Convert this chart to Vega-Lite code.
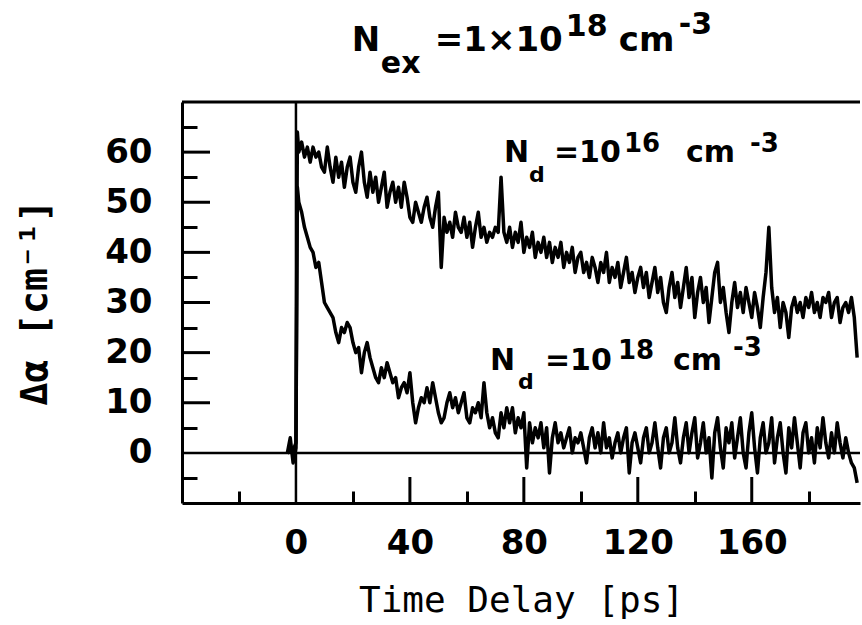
{
  "$schema": "https://vega.github.io/schema/vega-lite/v6.json",
  "width": 678,
  "height": 401,
  "autosize": {"type": "none"},
  "padding": {"left": 182, "top": 102, "right": 2, "bottom": 122},
  "background": "white",
  "config": {"view": {"stroke": null}},
  "data": {"values": [{}]},
  "resolve": {"scale": {"x": "shared", "y": "shared"}, "axis": {"x": "independent", "y": "independent"}},
  "datasets": {
    "curves": [
      {"t":-3,"v":0,"s":"A"},{"t":-1,"v":0.5,"s":"A"},{"t":0,"v":2,"s":"A"},{"t":0.5,"v":64,"s":"A"},
      {"t":1,"v":60,"s":"A"},{"t":2,"v":62,"s":"A"},{"t":3,"v":59,"s":"A"},{"t":4,"v":61,"s":"A"},{"t":5,"v":58,"s":"A"},{"t":6,"v":61,"s":"A"},{"t":7,"v":59,"s":"A"},{"t":8,"v":60,"s":"A"},{"t":9,"v":57,"s":"A"},{"t":10,"v":56,"s":"A"},
      {"t":11,"v":61,"s":"A"},{"t":12,"v":57,"s":"A"},{"t":13,"v":54,"s":"A"},{"t":14,"v":59,"s":"A"},{"t":15,"v":55,"s":"A"},{"t":16,"v":58,"s":"A"},{"t":17,"v":53,"s":"A"},{"t":18,"v":57,"s":"A"},{"t":19,"v":59,"s":"A"},{"t":20,"v":54,"s":"A"},
      {"t":21,"v":52,"s":"A"},{"t":22,"v":57,"s":"A"},{"t":23,"v":60,"s":"A"},{"t":24,"v":54,"s":"A"},{"t":25,"v":51,"s":"A"},{"t":26,"v":56,"s":"A"},{"t":27,"v":52,"s":"A"},{"t":28,"v":55,"s":"A"},{"t":29,"v":50,"s":"A"},{"t":30,"v":53,"s":"A"},
      {"t":31,"v":56,"s":"A"},{"t":32,"v":49,"s":"A"},{"t":33,"v":52,"s":"A"},{"t":34,"v":54,"s":"A"},{"t":35,"v":50,"s":"A"},{"t":36,"v":53,"s":"A"},{"t":37,"v":49,"s":"A"},{"t":38,"v":54,"s":"A"},{"t":39,"v":51,"s":"A"},{"t":40,"v":47,"s":"A"},
      {"t":41,"v":46,"s":"A"},{"t":42,"v":50,"s":"A"},{"t":43,"v":48,"s":"A"},{"t":44,"v":46,"s":"A"},{"t":45,"v":49,"s":"A"},{"t":46,"v":51,"s":"A"},{"t":47,"v":47,"s":"A"},{"t":48,"v":45,"s":"A"},{"t":49,"v":49,"s":"A"},{"t":50,"v":52,"s":"A"},
      {"t":51,"v":37,"s":"A"},{"t":52,"v":47,"s":"A"},{"t":53,"v":44,"s":"A"},{"t":54,"v":46,"s":"A"},{"t":55,"v":43,"s":"A"},{"t":56,"v":48,"s":"A"},{"t":57,"v":45,"s":"A"},{"t":58,"v":44,"s":"A"},{"t":59,"v":47,"s":"A"},{"t":60,"v":43,"s":"A"},
      {"t":61,"v":46,"s":"A"},{"t":62,"v":41,"s":"A"},{"t":63,"v":45,"s":"A"},{"t":64,"v":48,"s":"A"},{"t":65,"v":43,"s":"A"},{"t":66,"v":45,"s":"A"},{"t":67,"v":42,"s":"A"},{"t":68,"v":44,"s":"A"},{"t":69,"v":43,"s":"A"},{"t":70,"v":45,"s":"A"},
      {"t":71,"v":44,"s":"A"},{"t":72,"v":55,"s":"A"},{"t":73,"v":44,"s":"A"},{"t":74,"v":42,"s":"A"},{"t":75,"v":45,"s":"A"},{"t":76,"v":41,"s":"A"},{"t":77,"v":44,"s":"A"},{"t":78,"v":42,"s":"A"},{"t":79,"v":46,"s":"A"},{"t":80,"v":40,"s":"A"},
      {"t":81,"v":43,"s":"A"},{"t":82,"v":41,"s":"A"},{"t":83,"v":44,"s":"A"},{"t":84,"v":39,"s":"A"},{"t":85,"v":42,"s":"A"},{"t":86,"v":40,"s":"A"},{"t":87,"v":43,"s":"A"},{"t":88,"v":39,"s":"A"},{"t":89,"v":42,"s":"A"},{"t":90,"v":38,"s":"A"},
      {"t":91,"v":41,"s":"A"},{"t":92,"v":39,"s":"A"},{"t":93,"v":42,"s":"A"},{"t":94,"v":37,"s":"A"},{"t":95,"v":40,"s":"A"},{"t":96,"v":38,"s":"A"},{"t":97,"v":41,"s":"A"},{"t":98,"v":36,"s":"A"},{"t":99,"v":39,"s":"A"},{"t":100,"v":40,"s":"A"},
      {"t":101,"v":36,"s":"A"},{"t":102,"v":38,"s":"A"},{"t":103,"v":35,"s":"A"},{"t":104,"v":39,"s":"A"},{"t":105,"v":37,"s":"A"},{"t":106,"v":34,"s":"A"},{"t":107,"v":38,"s":"A"},{"t":108,"v":36,"s":"A"},{"t":109,"v":40,"s":"A"},{"t":110,"v":34,"s":"A"},
      {"t":111,"v":37,"s":"A"},{"t":112,"v":35,"s":"A"},{"t":113,"v":38,"s":"A"},{"t":114,"v":33,"s":"A"},{"t":115,"v":36,"s":"A"},{"t":116,"v":39,"s":"A"},{"t":117,"v":34,"s":"A"},{"t":118,"v":36,"s":"A"},{"t":119,"v":32,"s":"A"},{"t":120,"v":35,"s":"A"},
      {"t":121,"v":37,"s":"A"},{"t":122,"v":33,"s":"A"},{"t":123,"v":36,"s":"A"},{"t":124,"v":31,"s":"A"},{"t":125,"v":34,"s":"A"},{"t":126,"v":37,"s":"A"},{"t":127,"v":32,"s":"A"},{"t":128,"v":35,"s":"A"},{"t":129,"v":30,"s":"A"},{"t":130,"v":28,"s":"A"},
      {"t":131,"v":33,"s":"A"},{"t":132,"v":36,"s":"A"},{"t":133,"v":31,"s":"A"},{"t":134,"v":34,"s":"A"},{"t":135,"v":29,"s":"A"},{"t":136,"v":33,"s":"A"},{"t":137,"v":37,"s":"A"},{"t":138,"v":31,"s":"A"},{"t":139,"v":35,"s":"A"},{"t":140,"v":27,"s":"A"},
      {"t":141,"v":32,"s":"A"},{"t":142,"v":35,"s":"A"},{"t":143,"v":30,"s":"A"},{"t":144,"v":33,"s":"A"},{"t":145,"v":26,"s":"A"},{"t":146,"v":31,"s":"A"},{"t":147,"v":36,"s":"A"},{"t":148,"v":38,"s":"A"},{"t":149,"v":30,"s":"A"},{"t":150,"v":33,"s":"A"},
      {"t":151,"v":28,"s":"A"},{"t":152,"v":24,"s":"A"},{"t":153,"v":30,"s":"A"},{"t":154,"v":34,"s":"A"},{"t":155,"v":29,"s":"A"},{"t":156,"v":32,"s":"A"},{"t":157,"v":28,"s":"A"},{"t":158,"v":33,"s":"A"},{"t":159,"v":30,"s":"A"},{"t":160,"v":27,"s":"A"},
      {"t":161,"v":32,"s":"A"},{"t":162,"v":29,"s":"A"},{"t":163,"v":25,"s":"A"},{"t":164,"v":31,"s":"A"},{"t":165,"v":36,"s":"A"},{"t":166,"v":45,"s":"A"},{"t":167,"v":33,"s":"A"},{"t":168,"v":28,"s":"A"},{"t":169,"v":31,"s":"A"},{"t":170,"v":25,"s":"A"},
      {"t":171,"v":30,"s":"A"},{"t":172,"v":28,"s":"A"},{"t":173,"v":23,"s":"A"},{"t":174,"v":29,"s":"A"},{"t":175,"v":31,"s":"A"},{"t":176,"v":28,"s":"A"},{"t":177,"v":30,"s":"A"},{"t":178,"v":27,"s":"A"},{"t":179,"v":31,"s":"A"},{"t":180,"v":29,"s":"A"},
      {"t":181,"v":32,"s":"A"},{"t":182,"v":28,"s":"A"},{"t":183,"v":30,"s":"A"},{"t":184,"v":27,"s":"A"},{"t":185,"v":31,"s":"A"},{"t":186,"v":30,"s":"A"},{"t":187,"v":32,"s":"A"},{"t":188,"v":27,"s":"A"},{"t":189,"v":30,"s":"A"},{"t":190,"v":31,"s":"A"},
      {"t":191,"v":26,"s":"A"},{"t":192,"v":29,"s":"A"},{"t":193,"v":30,"s":"A"},{"t":194,"v":28,"s":"A"},{"t":195,"v":31,"s":"A"},{"t":196,"v":27,"s":"A"},{"t":197,"v":19,"s":"A"},
      {"t":-3,"v":0,"s":"B"},{"t":-2,"v":3,"s":"B"},{"t":-1,"v":-2,"s":"B"},{"t":0,"v":1,"s":"B"},{"t":0.5,"v":53,"s":"B"},
      {"t":1,"v":50,"s":"B"},{"t":2,"v":48,"s":"B"},{"t":3,"v":45,"s":"B"},{"t":4,"v":43,"s":"B"},{"t":5,"v":41,"s":"B"},{"t":6,"v":40,"s":"B"},{"t":7,"v":37,"s":"B"},{"t":8,"v":38,"s":"B"},{"t":9,"v":34,"s":"B"},{"t":10,"v":30,"s":"B"},
      {"t":11,"v":29,"s":"B"},{"t":12,"v":28,"s":"B"},{"t":13,"v":27,"s":"B"},{"t":14,"v":24,"s":"B"},{"t":15,"v":22,"s":"B"},{"t":16,"v":25,"s":"B"},{"t":17,"v":24,"s":"B"},{"t":18,"v":26,"s":"B"},{"t":19,"v":25,"s":"B"},{"t":20,"v":22,"s":"B"},
      {"t":21,"v":20,"s":"B"},{"t":22,"v":21,"s":"B"},{"t":23,"v":16,"s":"B"},{"t":24,"v":20,"s":"B"},{"t":25,"v":22,"s":"B"},{"t":26,"v":19,"s":"B"},{"t":27,"v":17,"s":"B"},{"t":28,"v":15,"s":"B"},{"t":29,"v":14,"s":"B"},{"t":30,"v":17,"s":"B"},
      {"t":31,"v":15,"s":"B"},{"t":32,"v":18,"s":"B"},{"t":33,"v":16,"s":"B"},{"t":34,"v":14,"s":"B"},{"t":35,"v":15,"s":"B"},{"t":36,"v":11,"s":"B"},{"t":37,"v":13,"s":"B"},{"t":38,"v":14,"s":"B"},{"t":39,"v":12,"s":"B"},{"t":40,"v":16,"s":"B"},
      {"t":41,"v":10,"s":"B"},{"t":42,"v":6,"s":"B"},{"t":43,"v":9,"s":"B"},{"t":44,"v":11,"s":"B"},{"t":45,"v":10,"s":"B"},{"t":46,"v":13,"s":"B"},{"t":47,"v":10,"s":"B"},{"t":48,"v":14,"s":"B"},{"t":49,"v":11,"s":"B"},{"t":50,"v":8,"s":"B"},
      {"t":51,"v":6,"s":"B"},{"t":52,"v":7,"s":"B"},{"t":53,"v":10,"s":"B"},{"t":54,"v":12,"s":"B"},{"t":55,"v":9,"s":"B"},{"t":56,"v":11,"s":"B"},{"t":57,"v":8,"s":"B"},{"t":58,"v":10,"s":"B"},{"t":59,"v":12,"s":"B"},{"t":60,"v":7,"s":"B"},
      {"t":61,"v":6,"s":"B"},{"t":62,"v":9,"s":"B"},{"t":63,"v":8,"s":"B"},{"t":64,"v":10,"s":"B"},{"t":65,"v":7,"s":"B"},{"t":66,"v":14,"s":"B"},{"t":67,"v":8,"s":"B"},{"t":68,"v":5,"s":"B"},{"t":69,"v":7,"s":"B"},{"t":70,"v":4,"s":"B"},
      {"t":71,"v":3,"s":"B"},{"t":72,"v":8,"s":"B"},{"t":73,"v":5,"s":"B"},{"t":74,"v":9,"s":"B"},{"t":75,"v":6,"s":"B"},{"t":76,"v":9,"s":"B"},{"t":77,"v":4,"s":"B"},{"t":78,"v":7,"s":"B"},{"t":79,"v":5,"s":"B"},{"t":80,"v":8,"s":"B"},
      {"t":81,"v":-3,"s":"B"},{"t":82,"v":6,"s":"B"},{"t":83,"v":2,"s":"B"},{"t":84,"v":5,"s":"B"},{"t":85,"v":3,"s":"B"},{"t":86,"v":6,"s":"B"},{"t":87,"v":1,"s":"B"},{"t":88,"v":5,"s":"B"},{"t":89,"v":-4,"s":"B"},{"t":90,"v":3,"s":"B"},
      {"t":91,"v":6,"s":"B"},{"t":92,"v":2,"s":"B"},{"t":93,"v":4,"s":"B"},{"t":94,"v":1,"s":"B"},{"t":95,"v":3,"s":"B"},{"t":96,"v":5,"s":"B"},{"t":97,"v":0,"s":"B"},{"t":98,"v":3,"s":"B"},{"t":99,"v":2,"s":"B"},{"t":100,"v":4,"s":"B"},
      {"t":101,"v":1,"s":"B"},{"t":102,"v":-2,"s":"B"},{"t":103,"v":3,"s":"B"},{"t":104,"v":5,"s":"B"},{"t":105,"v":1,"s":"B"},{"t":106,"v":4,"s":"B"},{"t":107,"v":0,"s":"B"},{"t":108,"v":6,"s":"B"},{"t":109,"v":1,"s":"B"},{"t":110,"v":3,"s":"B"},
      {"t":111,"v":-1,"s":"B"},{"t":112,"v":2,"s":"B"},{"t":113,"v":4,"s":"B"},{"t":114,"v":0,"s":"B"},{"t":115,"v":3,"s":"B"},{"t":116,"v":5,"s":"B"},{"t":117,"v":-4,"s":"B"},{"t":118,"v":2,"s":"B"},{"t":119,"v":4,"s":"B"},{"t":120,"v":1,"s":"B"},
      {"t":121,"v":-2,"s":"B"},{"t":122,"v":3,"s":"B"},{"t":123,"v":5,"s":"B"},{"t":124,"v":0,"s":"B"},{"t":125,"v":2,"s":"B"},{"t":126,"v":6,"s":"B"},{"t":127,"v":1,"s":"B"},{"t":128,"v":-3,"s":"B"},{"t":129,"v":3,"s":"B"},{"t":130,"v":5,"s":"B"},
      {"t":131,"v":0,"s":"B"},{"t":132,"v":2,"s":"B"},{"t":133,"v":7,"s":"B"},{"t":134,"v":1,"s":"B"},{"t":135,"v":-2,"s":"B"},{"t":136,"v":3,"s":"B"},{"t":137,"v":6,"s":"B"},{"t":138,"v":0,"s":"B"},{"t":139,"v":4,"s":"B"},{"t":140,"v":7,"s":"B"},
      {"t":141,"v":-1,"s":"B"},{"t":142,"v":2,"s":"B"},{"t":143,"v":6,"s":"B"},{"t":144,"v":0,"s":"B"},{"t":145,"v":3,"s":"B"},{"t":146,"v":-5,"s":"B"},{"t":147,"v":4,"s":"B"},{"t":148,"v":7,"s":"B"},{"t":149,"v":1,"s":"B"},{"t":150,"v":-3,"s":"B"},
      {"t":151,"v":5,"s":"B"},{"t":152,"v":2,"s":"B"},{"t":153,"v":6,"s":"B"},{"t":154,"v":-1,"s":"B"},{"t":155,"v":3,"s":"B"},{"t":156,"v":7,"s":"B"},{"t":157,"v":0,"s":"B"},{"t":158,"v":-3,"s":"B"},{"t":159,"v":4,"s":"B"},{"t":160,"v":8,"s":"B"},
      {"t":161,"v":1,"s":"B"},{"t":162,"v":-4,"s":"B"},{"t":163,"v":3,"s":"B"},{"t":164,"v":6,"s":"B"},{"t":165,"v":0,"s":"B"},{"t":166,"v":2,"s":"B"},{"t":167,"v":7,"s":"B"},{"t":168,"v":-2,"s":"B"},{"t":169,"v":3,"s":"B"},{"t":170,"v":6,"s":"B"},
      {"t":171,"v":0,"s":"B"},{"t":172,"v":-4,"s":"B"},{"t":173,"v":5,"s":"B"},{"t":174,"v":1,"s":"B"},{"t":175,"v":7,"s":"B"},{"t":176,"v":2,"s":"B"},{"t":177,"v":-3,"s":"B"},{"t":178,"v":4,"s":"B"},{"t":179,"v":6,"s":"B"},{"t":180,"v":0,"s":"B"},
      {"t":181,"v":3,"s":"B"},{"t":182,"v":-2,"s":"B"},{"t":183,"v":5,"s":"B"},{"t":184,"v":1,"s":"B"},{"t":185,"v":7,"s":"B"},{"t":186,"v":2,"s":"B"},{"t":187,"v":-1,"s":"B"},{"t":188,"v":4,"s":"B"},{"t":189,"v":0,"s":"B"},{"t":190,"v":6,"s":"B"},
      {"t":191,"v":2,"s":"B"},{"t":192,"v":-1,"s":"B"},{"t":193,"v":3,"s":"B"},{"t":194,"v":0,"s":"B"},{"t":195,"v":-2,"s":"B"},{"t":196,"v":-3,"s":"B"},{"t":197,"v":-6,"s":"B"}
    ]
  },
  "layer": [
    {
      "data": {"name": "curves"},
      "mark": {"type": "line", "color": "black", "strokeWidth": 3.5, "strokeJoin": "round"},
      "encoding": {
        "x": {
          "field": "t", "type": "quantitative",
          "scale": {"domain": [-40, 198], "nice": false, "zero": false},
          "axis": {
            "orient": "bottom", "title": null, "labels": false, "grid": false,
            "values": [-20, 20, 60, 100, 140, 180],
            "tickSize": -12, "tickWidth": 3, "tickColor": "black",
            "domain": true, "domainWidth": 3, "domainColor": "black"
          }
        },
        "y": {
          "field": "v", "type": "quantitative",
          "scale": {"domain": [-10, 70], "nice": false, "zero": false},
          "axis": {
            "orient": "left", "title": null, "labels": false, "grid": false,
            "values": [-5, 5, 15, 25, 35, 45, 55, 65],
            "tickSize": -15, "tickWidth": 3, "tickColor": "black",
            "domain": true, "domainWidth": 3, "domainColor": "black"
          }
        },
        "detail": {"field": "s"}
      }
    },
    {
      "mark": {"type": "rule", "color": "black", "strokeWidth": 2.5},
      "encoding": {
        "y": {
          "datum": 0, "type": "quantitative",
          "axis": {
            "orient": "left", "title": "Δα [cm⁻¹]", "grid": false,
            "values": [0, 10, 20, 30, 40, 50, 60],
            "ticks": true, "tickSize": 0, "tickWidth": 0,
            "domain": false,
            "labelFont": "DejaVu Sans", "labelFontWeight": "bold", "labelFontSize": 34, "labelColor": "black",
            "labelBaseline": "middle", "labelAlign": "right", "labelPadding": 30, "labelFlush": false, "labelOverlap": false,
            "titleFont": "DejaVu Sans Mono", "titleFontWeight": "bold", "titleFontSize": 38, "titleColor": "black",
            "titleX": -147, "titleY": 200, "titleAngle": -90, "titleAlign": "center", "titleBaseline": "middle"
          }
        }
      }
    },
    {
      "mark": {"type": "rule", "color": "black", "strokeWidth": 2.5},
      "encoding": {
        "x": {
          "datum": 0, "type": "quantitative",
          "axis": {
            "orient": "bottom", "title": "Time Delay [ps]", "grid": false,
            "values": [0, 40, 80, 120, 160],
            "ticks": true, "tickSize": 0, "tickWidth": 0,
            "domain": false,
            "labelFont": "DejaVu Sans", "labelFontWeight": "bold", "labelFontSize": 34, "labelColor": "black",
            "labelBaseline": "top", "labelPadding": 23, "labelFlush": false, "labelOverlap": false,
            "titleFont": "DejaVu Sans Mono", "titleFontWeight": "normal", "titleFontSize": 36, "titleColor": "black",
            "titleX": 339, "titleY": 108, "titleAlign": "center", "titleBaseline": "alphabetic"
          }
        }
      }
    },
    {"mark": {"type": "rule", "color": "black", "strokeWidth": 3}, "encoding": {"y": {"datum": 70, "type": "quantitative", "axis": null}}},
    {
      "data": {"values": [{"yt": 10}, {"yt": 20}, {"yt": 30}, {"yt": 40}, {"yt": 50}, {"yt": 60}]},
      "mark": {"type": "rule", "color": "black", "strokeWidth": 3},
      "encoding": {
        "y": {"field": "yt", "type": "quantitative", "axis": null},
        "x": {"datum": -40, "type": "quantitative", "axis": null},
        "x2": {"datum": -30.17}
      }
    },
    {
      "data": {"values": [{"xt": 40}, {"xt": 80}, {"xt": 120}, {"xt": 160}]},
      "mark": {"type": "rule", "color": "black", "strokeWidth": 3},
      "encoding": {
        "x": {"field": "xt", "type": "quantitative", "axis": null},
        "y": {"datum": -10, "type": "quantitative", "axis": null},
        "y2": {"datum": -4.81}
      }
    },

    {"mark": {"type": "text", "align": "left", "baseline": "alphabetic", "font": "DejaVu Sans", "fontWeight": "bold", "fontSize": 34, "color": "black"}, "encoding": {"x": {"datum": 19.6, "type": "quantitative", "axis": null}, "y": {"datum": 80.1, "type": "quantitative", "axis": null}, "text": {"value": "N"}}},
    {"mark": {"type": "text", "align": "left", "baseline": "alphabetic", "font": "DejaVu Sans", "fontWeight": "bold", "fontSize": 30, "color": "black", "dx": 29, "dy": 22}, "encoding": {"x": {"datum": 19.6, "type": "quantitative", "axis": null}, "y": {"datum": 80.1, "type": "quantitative", "axis": null}, "text": {"value": "ex"}}},
    {"mark": {"type": "text", "align": "left", "baseline": "alphabetic", "font": "DejaVu Sans", "fontWeight": "bold", "fontSize": 34, "color": "black", "dx": 83}, "encoding": {"x": {"datum": 19.6, "type": "quantitative", "axis": null}, "y": {"datum": 80.1, "type": "quantitative", "axis": null}, "text": {"value": "=1×10"}}},
    {"mark": {"type": "text", "align": "left", "baseline": "alphabetic", "font": "DejaVu Sans", "fontWeight": "bold", "fontSize": 30, "color": "black", "dx": 214, "dy": -15}, "encoding": {"x": {"datum": 19.6, "type": "quantitative", "axis": null}, "y": {"datum": 80.1, "type": "quantitative", "axis": null}, "text": {"value": "18"}}},
    {"mark": {"type": "text", "align": "left", "baseline": "alphabetic", "font": "DejaVu Sans", "fontWeight": "bold", "fontSize": 34, "color": "black", "dx": 267}, "encoding": {"x": {"datum": 19.6, "type": "quantitative", "axis": null}, "y": {"datum": 80.1, "type": "quantitative", "axis": null}, "text": {"value": "cm"}}},
    {"mark": {"type": "text", "align": "left", "baseline": "alphabetic", "font": "DejaVu Sans", "fontWeight": "bold", "fontSize": 30, "color": "black", "dx": 327, "dy": -17}, "encoding": {"x": {"datum": 19.6, "type": "quantitative", "axis": null}, "y": {"datum": 80.1, "type": "quantitative", "axis": null}, "text": {"value": "-3"}}},

    {"mark": {"type": "text", "align": "left", "baseline": "alphabetic", "font": "DejaVu Sans", "fontWeight": "bold", "fontSize": 30, "color": "black"}, "encoding": {"x": {"datum": 73, "type": "quantitative", "axis": null}, "y": {"datum": 58, "type": "quantitative", "axis": null}, "text": {"value": "N"}}},
    {"mark": {"type": "text", "align": "left", "baseline": "alphabetic", "font": "DejaVu Sans", "fontWeight": "bold", "fontSize": 22, "color": "black", "dx": 25, "dy": 20}, "encoding": {"x": {"datum": 73, "type": "quantitative", "axis": null}, "y": {"datum": 58, "type": "quantitative", "axis": null}, "text": {"value": "d"}}},
    {"mark": {"type": "text", "align": "left", "baseline": "alphabetic", "font": "DejaVu Sans", "fontWeight": "bold", "fontSize": 30, "color": "black", "dx": 50}, "encoding": {"x": {"datum": 73, "type": "quantitative", "axis": null}, "y": {"datum": 58, "type": "quantitative", "axis": null}, "text": {"value": "=10"}}},
    {"mark": {"type": "text", "align": "left", "baseline": "alphabetic", "font": "DejaVu Sans", "fontWeight": "bold", "fontSize": 26, "color": "black", "dx": 120, "dy": -10}, "encoding": {"x": {"datum": 73, "type": "quantitative", "axis": null}, "y": {"datum": 58, "type": "quantitative", "axis": null}, "text": {"value": "16"}}},
    {"mark": {"type": "text", "align": "left", "baseline": "alphabetic", "font": "DejaVu Sans", "fontWeight": "bold", "fontSize": 30, "color": "black", "dx": 182}, "encoding": {"x": {"datum": 73, "type": "quantitative", "axis": null}, "y": {"datum": 58, "type": "quantitative", "axis": null}, "text": {"value": "cm"}}},
    {"mark": {"type": "text", "align": "left", "baseline": "alphabetic", "font": "DejaVu Sans", "fontWeight": "bold", "fontSize": 26, "color": "black", "dx": 246, "dy": -10}, "encoding": {"x": {"datum": 73, "type": "quantitative", "axis": null}, "y": {"datum": 58, "type": "quantitative", "axis": null}, "text": {"value": "-3"}}},

    {"mark": {"type": "text", "align": "left", "baseline": "alphabetic", "font": "DejaVu Sans", "fontWeight": "bold", "fontSize": 30, "color": "black"}, "encoding": {"x": {"datum": 68.1, "type": "quantitative", "axis": null}, "y": {"datum": 16.6, "type": "quantitative", "axis": null}, "text": {"value": "N"}}},
    {"mark": {"type": "text", "align": "left", "baseline": "alphabetic", "font": "DejaVu Sans", "fontWeight": "bold", "fontSize": 22, "color": "black", "dx": 28, "dy": 19}, "encoding": {"x": {"datum": 68.1, "type": "quantitative", "axis": null}, "y": {"datum": 16.6, "type": "quantitative", "axis": null}, "text": {"value": "d"}}},
    {"mark": {"type": "text", "align": "left", "baseline": "alphabetic", "font": "DejaVu Sans", "fontWeight": "bold", "fontSize": 30, "color": "black", "dx": 55}, "encoding": {"x": {"datum": 68.1, "type": "quantitative", "axis": null}, "y": {"datum": 16.6, "type": "quantitative", "axis": null}, "text": {"value": "=10"}}},
    {"mark": {"type": "text", "align": "left", "baseline": "alphabetic", "font": "DejaVu Sans", "fontWeight": "bold", "fontSize": 26, "color": "black", "dx": 128, "dy": -11}, "encoding": {"x": {"datum": 68.1, "type": "quantitative", "axis": null}, "y": {"datum": 16.6, "type": "quantitative", "axis": null}, "text": {"value": "18"}}},
    {"mark": {"type": "text", "align": "left", "baseline": "alphabetic", "font": "DejaVu Sans", "fontWeight": "bold", "fontSize": 30, "color": "black", "dx": 183}, "encoding": {"x": {"datum": 68.1, "type": "quantitative", "axis": null}, "y": {"datum": 16.6, "type": "quantitative", "axis": null}, "text": {"value": "cm"}}},
    {"mark": {"type": "text", "align": "left", "baseline": "alphabetic", "font": "DejaVu Sans", "fontWeight": "bold", "fontSize": 26, "color": "black", "dx": 243, "dy": -14}, "encoding": {"x": {"datum": 68.1, "type": "quantitative", "axis": null}, "y": {"datum": 16.6, "type": "quantitative", "axis": null}, "text": {"value": "-3"}}}
  ]
}
